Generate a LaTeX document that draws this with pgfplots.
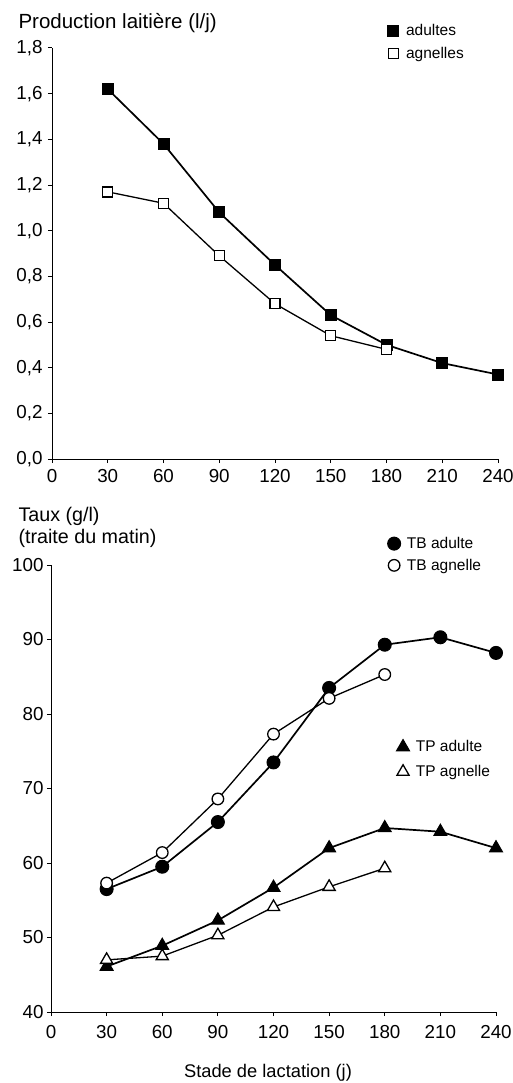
\documentclass[border=0pt]{standalone}
\usepackage{fontspec}
\setmainfont{Liberation Sans}
\usepackage{pgfplots}
\pgfplotsset{compat=1.18}

\newcommand\tickfont{\fontsize{18.8}{22}\selectfont}
\pgfplotsset{
  lait/.style={
    scale only axis, clip=false,
    axis x line=bottom, axis y line=left,
    axis line style={-, line width=1pt},
    tick align=outside, major tick length=4pt,
    tick style={line width=1pt, black},
    xmin=0, xmax=240, xtick={0,30,...,240},
    font=\tickfont,
    every tick label/.append style={font=\tickfont},
    /pgf/number format/assume math mode=true,
    legend style={draw=none, fill=none, font=\fontsize{15.5}{18}\selectfont,
      inner sep=0pt, cells={anchor=west}},
    legend image code/.code={\draw[##1, only marks] plot coordinates {(0pt,0pt)};
      \path (-7pt,0pt) (10pt,0pt);},
  },
  adulte/.style={black, line width=1.7pt, mark options={solid, fill=black, line width=1pt}},
  agnelle/.style={black, line width=1.3pt, mark options={solid, fill=white, line width=1.3pt}},
}

\begin{document}
\begin{tikzpicture}
\useasboundingbox (0pt,0pt) rectangle (513pt,-1083pt);

% production laitiere
\begin{axis}[lait, at={(52pt,-459pt)}, anchor=south west,
  width=446pt, height=411pt,
  ymin=0, ymax=1.8, ytick={0,0.2,0.4,0.6,0.8,1,1.2,1.4,1.6,1.8},
  yticklabel style={font=\tickfont, xshift=-2pt, /pgf/number format/fixed, /pgf/number format/fixed zerofill,
    /pgf/number format/precision=1, /pgf/number format/use comma},
  xticklabel style={font=\tickfont, yshift=-3pt},
  legend style={at={(axis description cs:0.747,1.062)}, anchor=north west, row sep=6pt}]
\addplot[adulte, mark=square*, mark size=5.5pt] coordinates {
  (30,1.62) (60,1.38) (90,1.08) (120,0.85) (150,0.63) (180,0.50) (210,0.42) (240,0.37)};
\addplot[agnelle, mark=square*, mark size=5pt] coordinates {
  (30,1.17) (60,1.12) (90,0.89) (120,0.68) (150,0.54) (180,0.48)};
\legend{adultes, agnelles}
\end{axis}

% taux butyreux
\begin{axis}[lait, at={(51pt,-1012pt)}, anchor=south west,
  width=445pt, height=447pt,
  ymin=40, ymax=100, ytick={40,50,...,100},
  xticklabel style={font=\tickfont, yshift=-6pt},
  yticklabel style={font=\tickfont},
  legend style={at={(axis description cs:0.753,1.067)}, anchor=north west, row sep=5pt}]
\addplot[adulte, mark=*, mark size=6.5pt] coordinates {
  (30,56.5) (60,59.5) (90,65.5) (120,73.5) (150,83.5) (180,89.3) (210,90.3) (240,88.2)};
\addplot[agnelle, mark=*, mark size=5.8pt] coordinates {
  (30,57.3) (60,61.4) (90,68.6) (120,77.3) (150,82.1) (180,85.3)};
\legend{TB adulte, TB agnelle}
\end{axis}

% taux proteique
\begin{axis}[lait, hide axis, at={(51pt,-1012pt)}, anchor=south west,
  width=445pt, height=447pt,
  ymin=40, ymax=100,
  legend style={at={(axis description cs:0.773,0.612)}, anchor=north west, row sep=8pt}]
\addplot[adulte, mark=triangle*, mark size=7.5pt] coordinates {
  (30,46.1) (60,48.9) (90,52.3) (120,56.7) (150,62.0) (180,64.7) (210,64.2) (240,62.0)};
\addplot[agnelle, mark=triangle*, mark size=7pt] coordinates {
  (30,47.0) (60,47.5) (90,50.3) (120,54.1) (150,56.8) (180,59.3)};
\legend{TP adulte, TP agnelle}
\end{axis}

\node[anchor=base west, font=\fontsize{20.5}{24}\selectfont] at (15pt,-29pt) {Production laitière (l/j)};
\node[anchor=base west, font=\fontsize{19.7}{24}\selectfont] at (15pt,-521pt) {Taux (g/l)};
\node[anchor=base west, font=\fontsize{19.7}{24}\selectfont] at (15pt,-543pt) {(traite du matin)};
\node[anchor=base, font=\fontsize{18.3}{22}\selectfont] at (268pt,-1077pt) {Stade de lactation (j)};
\end{tikzpicture}
\end{document}
